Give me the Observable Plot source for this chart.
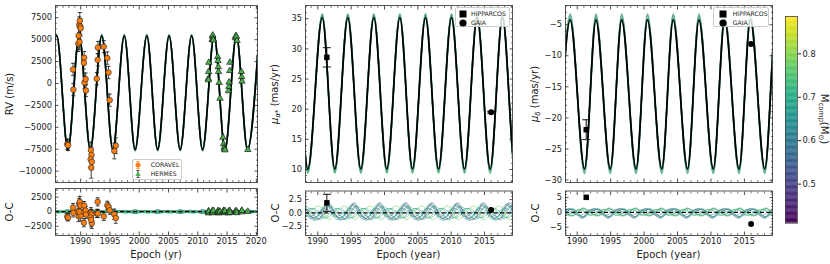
<!DOCTYPE html>
<html><head><meta charset="utf-8">
<script src="https://cdn.jsdelivr.net/npm/d3@7"></script>
<script src="https://cdn.jsdelivr.net/npm/@observablehq/plot@0.6"></script>
<style>
body{margin:0;background:#fff;}
#fig{position:relative;width:830px;height:264px;overflow:hidden;font-family:"DejaVu Sans",sans-serif;color:#222;}
#fig svg{position:absolute;left:0;top:0;}
.lab{position:absolute;font-size:10px;white-space:nowrap;line-height:1;}
.c{transform:translate(-50%,-50%);}
.rot{transform:translate(-50%,-50%) rotate(-90deg);}
.rot90{transform:translate(-50%,-50%) rotate(90deg);}
.leg{position:absolute;background:rgba(255,255,255,0.8);border:0.6px solid #ccc;border-radius:2px;box-sizing:border-box;}
.leg span{position:absolute;font-size:6.2px;line-height:1;transform:translateY(-50%);white-space:nowrap;}
.leg svg{position:absolute;overflow:visible;}
sub{font-size:70%;vertical-align:-0.3em;}
</style></head>
<body><div id="fig"></div>
<script>
// ---------------- DATA ----------------
const massDomain = [0.41, 0.886];
const colorbarTicks = [0.5, 0.6, 0.7, 0.8];

// RV best-fit model: alternating trough / peak (epoch, m/s)
const rvModelT = [1984.0, 1985.9, 1987.82, 1989.75, 1991.65, 1993.6, 1995.5, 1997.45, 1999.3, 2001.3, 2003.15, 2005.1, 2007.0, 2008.95, 2010.82, 2012.8, 2014.65, 2016.6, 2018.5, 2020.45];
const rvModelV = [-7550, 5450, -7550, 5450, -7550, 5450, -7550, 5450, -7550, 5450, -7550, 5450, -7550, 5450, -7550, 5450, -7550, 5450, -7550, 5450];
const rvSampleMass   = [0.50, 0.58, 0.63, 0.66, 0.69, 0.72, 0.78];
const rvSamplePeak   = [5600, 5520, 5480, 5400, 5560, 5350, 5500];
const rvSampleTrough = [-7700, -7620, -7500, -7450, -7680, -7400, -7600];

// CORAVEL radial velocities
const coravelT   = [1987.70, 1987.85, 1988.70, 1988.75, 1989.65, 1989.60, 1989.75, 1989.85, 1989.95, 1990.00, 1989.80, 1990.60, 1990.55, 1990.65, 1990.85, 1990.90, 1991.75, 1991.85, 1991.70, 1991.90, 1991.80, 1992.75, 1992.90, 1992.95, 1993.95, 1994.55, 1994.75, 1994.95, 1995.75, 1996.00];
const coravelV   = [-6930, -7050, 1600, -700, 5450, 4550, 6700, 7150, 6500, 6300, 4750, 2950, 2350, 100, 500, -800, -7600, -8150, -8650, -8950, -9600, 550, 2700, 4100, 4200, 2900, 1250, -1900, -7700, -7100];
const coravelE   = [600, 600, 700, 700, 900, 900, 900, 950, 900, 900, 900, 700, 700, 700, 700, 700, 900, 900, 900, 900, 1200, 700, 700, 700, 700, 700, 700, 700, 900, 900];
const coravelRes = [-850, -1000, 700, -200, -800, 100, 1400, 1700, 1050, -650, 0, 1050, -1900, -100, 200, -500, -200, -500, -1000, -2000, -1400, -300, 1700, -300, -800, 1100, 800, 250, -450, -1100];

// HERMES radial velocities
const hermesT   = [2011.80, 2011.82, 2011.85, 2011.88, 2012.45, 2012.50, 2012.55, 2012.60, 2012.65, 2013.40, 2013.45, 2013.50, 2013.55, 2013.65, 2013.80, 2014.30, 2014.40, 2014.50, 2014.55, 2014.65, 2015.25, 2015.30, 2015.35, 2015.45, 2015.50, 2016.40, 2016.50, 2016.60, 2016.70, 2017.45, 2017.50, 2017.55, 2018.55];
const hermesV   = [550, 400, 1350, 2400, 5000, 5400, 5500, 5100, 4950, 3050, 2600, 1900, 1350, 100, -1700, -6150, -6900, -7300, -7500, -7600, -850, -350, 150, 1450, 2400, 5200, 5450, 5350, 4900, 1350, 750, 250, -7550];
const hermesE   = [150, 150, 150, 150, 150, 150, 150, 150, 150, 150, 150, 150, 150, 150, 150, 150, 150, 150, 150, 150, 150, 150, 150, 150, 150, 150, 150, 150, 150, 150, 150, 150, 150];
const hermesRes = [-150, 100, -250, 50, -200, 150, 0, -100, 200, -50, 150, -250, 100, -150, 50, -100, 200, -200, 0, 150, -250, 100, -50, 200, -150, 50, -100, 150, -200, 100, -50, 200, 50];

// RV O-C sample curves (epoch grid, 4 points per cycle; values per sample)
const rvOcT = [1984.0, 1984.95, 1985.9, 1986.85, 1987.82, 1988.78, 1989.75, 1990.7, 1991.65, 1992.6, 1993.6, 1994.55, 1995.5, 1996.45, 1997.45, 1998.4, 1999.3, 2000.3, 2001.3, 2002.2, 2003.15, 2004.1, 2005.1, 2006.05, 2007.0, 2008.0, 2008.95, 2009.9, 2010.82, 2011.8, 2012.8, 2013.7, 2014.65, 2015.6, 2016.6, 2017.55, 2018.5, 2019.5, 2020.45, 2021.4];
const ocMass = [0.47, 0.52, 0.58, 0.62, 0.65, 0.67, 0.69, 0.71, 0.74, 0.78];
const rvOcPattern = [[-300, 100, 150, -50], [250, -80, -120, 60], [-150, 50, 200, -100], [120, 150, -80, -60], [-200, -100, 80, 120], [300, 60, -150, -40], [-80, -150, 100, 90], [180, 80, -200, -120], [-250, 20, 120, 150], [60, -60, -60, 40]];

// mu_alpha* model (mas/yr): alternating trough / peak
const muaModelT = [1984.6, 1986.55, 1988.5, 1990.66, 1992.55, 1994.5, 1996.45, 1998.4, 2000.35, 2002.3, 2004.2, 2006.15, 2008.1, 2010.05, 2012.0, 2013.9, 2015.85, 2017.7, 2019.6, 2021.5];
const muaModelV = [10.1, 35.2, 10.1, 35.2, 10.1, 35.2, 10.1, 35.2, 10.1, 35.2, 10.1, 35.2, 10.1, 35.2, 10.1, 35.2, 10.1, 35.2, 10.1, 35.2];
const muSampleMass = [0.52, 0.58, 0.62, 0.66, 0.69, 0.72, 0.77];
const muaSamplePeak   = [35.8, 35.6, 35.4, 35.7, 35.0, 35.5, 35.9];
const muaSampleTrough = [9.5, 9.7, 9.9, 9.4, 10.3, 9.6, 9.3];
const muaOcT = [1987.6, 1988.55, 1989.55, 1990.55, 1991.5, 1992.45, 1993.45, 1994.45, 1995.4, 1996.35, 1997.35, 1998.3, 1999.25, 2000.2, 2001.2, 2002.2, 2003.15, 2004.1, 2005.1, 2006.05, 2007.05, 2008.0, 2008.95, 2009.95, 2010.9, 2011.85, 2012.85, 2013.85, 2014.8, 2015.75, 2016.7, 2017.65, 2018.6, 2019.55, 2020.55, 2021.5];
const muaOcPattern = [[1.9, 0.2, -1.2, -0.5], [1.5, -0.3, -0.9, 0.4], [1.1, 0.5, -0.7, -0.8], [0.6, -0.6, -0.3, 0.6], [-0.5, 0.7, 0.5, -0.9], [1.3, -0.8, -1.0, 0.3], [-0.9, 0.3, 0.8, -0.4], [1.7, 0.0, -1.4, 0.7], [0.8, 1.0, -0.5, -1.2], [-1.2, -0.4, 1.0, 0.9]];

// mu_delta model (mas/yr): alternating trough / peak
const mudModelT = [1987.2, 1988.95, 1991.1, 1992.8, 1994.95, 1996.65, 1998.8, 2000.5, 2002.65, 2004.35, 2006.5, 2008.2, 2010.35, 2012.05, 2014.2, 2015.9, 2018.05, 2019.75, 2021.9];
const mudModelV = [-28.2, -4.2, -28.2, -4.2, -28.2, -4.2, -28.2, -4.2, -28.2, -4.2, -28.2, -4.2, -28.2, -4.2, -28.2, -4.2, -28.2, -4.2, -28.2];
const mudSamplePeak   = [-3.3, -3.6, -3.9, -4.2, -3.5, -4.5, -3.2];
const mudSampleTrough = [-28.9, -28.6, -28.4, -28.0, -29.0, -28.3, -28.8];
const mudOcT = [1986.9, 1987.85, 1988.85, 1989.8, 1990.75, 1991.7, 1992.7, 1993.65, 1994.6, 1995.55, 1996.55, 1997.5, 1998.5, 1999.45, 2000.45, 2001.4, 2002.4, 2003.35, 2004.35, 2005.3, 2006.3, 2007.25, 2008.25, 2009.2, 2010.2, 2011.15, 2012.15, 2013.1, 2014.1, 2015.05, 2016.05, 2017.0, 2018.0, 2018.95, 2019.95, 2020.9];
const mudOcPattern = [[-1.8, 0.4, 1.2, -0.3], [-1.4, -0.5, 0.9, 0.6], [1.3, 0.3, -0.8, -0.6], [-0.8, 0.8, 0.5, -0.7], [0.9, -0.7, -0.6, 0.5], [-1.5, 0.2, 1.0, 0.4], [1.1, 0.6, -1.0, -0.3], [-2.0, -0.3, 1.3, 0.5], [0.7, -0.9, -0.4, 0.8], [1.5, 0.5, -1.2, -0.6]];

// astrometry points
const astroLabels = ["HIPPARCOS", "GAIA"];
const astroT = [1991.35, 2016.0];
const muaObs = [28.6, 19.5];
const muaErr = [1.6, 0.15];
const muaRes = [1.9, 0.55];
const muaResErr = [1.6, 0.1];
const mudObs = [-21.9, -8.1];
const mudErr = [1.6, 0.1];
const mudRes = [5.1, -3.9];

// axis ticks
const xTicksRV = [1990, 1995, 2000, 2005, 2010, 2015, 2020];
const xTicksPM = [1990, 1995, 2000, 2005, 2010, 2015];
const yTicksRV = [-10000, -7500, -5000, -2500, 0, 2500, 5000, 7500];
const yTicksRVoc = [-2500, 0, 2500];
const yTicksMua = [10, 15, 20, 25, 30, 35];
const yTicksMuaOc = [-2.5, 0, 2.5];
const yTicksMud = [-30, -25, -20, -15, -10, -5];
const yTicksMudOc = [-5, 0, 5];

// ---------------- BUILD ----------------
const W = 830, H = 264;
const rng = (a, b, s) => { const o = []; for (let i = 0; a + i * s <= b + 1e-9; i++) o.push(+(a + i * s).toFixed(6)); return o; };
const fmtInt = d3.format("d"), fmt1 = d3.format(".1f");
const capSym = {draw(ctx, size) { const w = Math.sqrt(size / Math.PI); ctx.moveTo(-w, 0); ctx.lineTo(w, 0); }};
const colorOpt = {type: "linear", scheme: "viridis", domain: massDomain};

const modelRows = (T, V) => T.map((t, i) => ({t, v: V[i]}));
const bandRows = (T, masses, peaks, troughs, firstIsTrough) => masses.flatMap((m, k) => T.map((t, i) => ({t, m, k, v: ((i % 2 === 0) === firstIsTrough) ? troughs[k] : peaks[k]})));
const ocRows = (T, masses, pattern) => masses.flatMap((m, k) => T.map((t, i) => ({t, m, k, v: pattern[k][i % 4]})));

const coravel = coravelT.map((t, i) => ({t, v: coravelV[i], e: coravelE[i], r: coravelRes[i]}));
const hermes = hermesT.map((t, i) => ({t, v: hermesV[i], e: hermesE[i], r: hermesRes[i]}));
const astro = astroT.map((t, i) => ({name: astroLabels[i], t, a: muaObs[i], ae: muaErr[i], ar: muaRes[i], are: muaResErr[i], d: mudObs[i], de: mudErr[i], dr: mudRes[i]}));

function errMarks(data, y, e, capR, sw) {
  return [
    Plot.ruleX(data, {x: "t", y1: d => y(d) - e(d), y2: d => y(d) + e(d), stroke: "#111", strokeWidth: sw}),
    Plot.dot(data, {x: "t", y: d => y(d) + e(d), symbol: capSym, r: capR, stroke: "#111", fill: "none", strokeWidth: sw}),
    Plot.dot(data, {x: "t", y: d => y(d) - e(d), symbol: capSym, r: capR, stroke: "#111", fill: "none", strokeWidth: sw})
  ];
}

function panel(o) {
  const [L, R, T, B] = o.frame;
  const inX = o.xMinor.filter(v => v >= o.xDomain[0] && v <= o.xDomain[1] && !o.xTicks.includes(v));
  const inY = o.yMinor.filter(v => v >= o.yDomain[0] && v <= o.yDomain[1] && !o.yTicks.includes(v));
  const tk = {stroke: "#222", fill: "none", label: null};
  const marks = [
    ...o.marks,
    Plot.frame({stroke: "#444", strokeWidth: 0.9}),
    Plot.axisX({...tk, anchor: "bottom", ticks: o.xTicks, tickSize: -3.5, strokeWidth: 0.8}),
    Plot.axisX({...tk, anchor: "bottom", ticks: inX, tickSize: -2, strokeWidth: 0.6}),
    Plot.axisX({...tk, anchor: "top", ticks: o.xTicks, tickSize: -3.5, strokeWidth: 0.8}),
    Plot.axisX({...tk, anchor: "top", ticks: inX, tickSize: -2, strokeWidth: 0.6}),
    Plot.axisY({...tk, anchor: "left", ticks: o.yTicks, tickSize: -3.5, strokeWidth: 0.8}),
    Plot.axisY({...tk, anchor: "left", ticks: inY, tickSize: -2, strokeWidth: 0.6}),
    Plot.axisY({...tk, anchor: "right", ticks: o.yTicks, tickSize: -3.5, strokeWidth: 0.8}),
    Plot.axisY({...tk, anchor: "right", ticks: inY, tickSize: -2, strokeWidth: 0.6}),
    Plot.axisY({anchor: "left", ticks: o.yTicks, tickSize: 0, tickPadding: 3.5, tickFormat: o.yFormat, label: null, fill: "#222"})
  ];
  if (o.showX) marks.push(Plot.axisX({anchor: "bottom", ticks: o.xTicks, tickSize: 0, tickPadding: 3, tickFormat: fmtInt, label: null, fill: "#222"}));
  return Plot.plot({
    width: W, height: H,
    marginLeft: L, marginRight: W - R, marginTop: T, marginBottom: H - B,
    x: {domain: o.xDomain}, y: {domain: o.yDomain},
    color: colorOpt,
    style: {background: "transparent", overflow: "visible", fontFamily: "DejaVu Sans, sans-serif", fontSize: "8.3px", color: "#222"},
    marks
  });
}

const fig = document.getElementById("fig");
const xRV = [1985.7, 2020.2], xPMa = [1988.15, 2019.2], xPMd = [1988.25, 2019.2];
const bandStyle = {x: "t", y: "v", z: "k", stroke: "m", strokeWidth: 1.4, strokeOpacity: 0.5, curve: "monotone-x", clip: true};
const ocStyle = {x: "t", y: "v", z: "k", stroke: "m", strokeWidth: 1, strokeOpacity: 0.55, curve: "natural", clip: true};
const zeroLine = Plot.ruleY([0], {stroke: "#000", strokeWidth: 1.3, strokeDasharray: "4,2.5"});

// Panel 1: RV
fig.append(panel({
  frame: [55, 257, 5, 182], xDomain: xRV, yDomain: [-11300, 8900],
  xTicks: xTicksRV, xMinor: rng(1986, 2020, 1), yTicks: yTicksRV, yMinor: rng(-11250, 8750, 625), yFormat: fmtInt,
  marks: [
    Plot.line(bandRows(rvModelT, rvSampleMass, rvSamplePeak, rvSampleTrough, true), bandStyle),
    Plot.line(modelRows(rvModelT, rvModelV), {x: "t", y: "v", stroke: "#000", strokeWidth: 1.7, curve: "monotone-x", clip: true}),
    ...errMarks(coravel, d => d.v, d => d.e, 2, 0.8),
    ...errMarks(hermes, d => d.v, d => d.e, 1.5, 0.7),
    Plot.dot(coravel, {x: "t", y: "v", r: 2.8, fill: "#ff7f0e", stroke: "#222", strokeWidth: 0.6}),
    Plot.dot(hermes, {x: "t", y: "v", symbol: "triangle", r: 2.4, fill: "#4caf50", stroke: "#111", strokeWidth: 0.6})
  ]
}));
fig.append(panel({
  frame: [55, 257, 188, 235], xDomain: xRV, yDomain: [-4100, 4000], showX: true,
  xTicks: xTicksRV, xMinor: rng(1986, 2020, 1), yTicks: yTicksRVoc, yMinor: rng(-3750, 3750, 625), yFormat: fmtInt,
  marks: [
    Plot.line(ocRows(rvOcT, ocMass, rvOcPattern), {...ocStyle, strokeOpacity: 0.6, strokeWidth: 1.3}),
    zeroLine,
    ...errMarks(coravel, d => d.r, d => d.e, 2, 0.8),
    ...errMarks(hermes, d => d.r, d => d.e, 1.5, 0.7),
    Plot.dot(coravel, {x: "t", y: "r", r: 2.8, fill: "#ff7f0e", stroke: "#222", strokeWidth: 0.6}),
    Plot.dot(hermes, {x: "t", y: "r", symbol: "triangle", r: 2.4, fill: "#4caf50", stroke: "#111", strokeWidth: 0.6})
  ]
}));

// Panel 2: mu_alpha*
fig.append(panel({
  frame: [305, 512, 5, 182], xDomain: xPMa, yDomain: [7.84, 37.2],
  xTicks: xTicksPM, xMinor: rng(1988, 2019, 1), yTicks: yTicksMua, yMinor: rng(8, 37, 1), yFormat: fmtInt,
  marks: [
    Plot.line(bandRows(muaModelT, muSampleMass, muaSamplePeak, muaSampleTrough, true), bandStyle),
    Plot.line(modelRows(muaModelT, muaModelV), {x: "t", y: "v", stroke: "#000", strokeWidth: 1.8, curve: "monotone-x", clip: true}),
    ...errMarks(astro, d => d.a, d => d.ae, 4, 1),
    Plot.dot(astro, {x: "t", y: "a", symbol: d => d.name === "GAIA" ? "circle" : "square", r: d => d.name === "GAIA" ? 3.7 : 4, fill: "#000"})
  ]
}));
fig.append(panel({
  frame: [305, 512, 190.5, 235], xDomain: xPMa, yDomain: [-4.26, 4.13], showX: true,
  xTicks: xTicksPM, xMinor: rng(1988, 2019, 1), yTicks: yTicksMuaOc, yMinor: rng(-3.75, 3.75, 0.625), yFormat: fmt1,
  marks: [
    Plot.line(ocRows(muaOcT, ocMass, muaOcPattern), ocStyle),
    zeroLine,
    ...errMarks(astro.filter(d => d.name === "HIPPARCOS"), d => d.ar, d => d.are, 4, 1),
    Plot.dot(astro, {x: "t", y: "ar", symbol: d => d.name === "GAIA" ? "circle" : "square", r: d => d.name === "GAIA" ? 3.7 : 4, fill: "#000"})
  ]
}));

// Panel 3: mu_delta
fig.append(panel({
  frame: [565, 772, 5, 182], xDomain: xPMd, yDomain: [-30.4, -1.9],
  xTicks: xTicksPM, xMinor: rng(1989, 2019, 1), yTicks: yTicksMud, yMinor: rng(-30, -2, 1), yFormat: fmtInt,
  marks: [
    Plot.line(bandRows(mudModelT, muSampleMass, mudSamplePeak, mudSampleTrough, true), bandStyle),
    Plot.line(modelRows(mudModelT, mudModelV), {x: "t", y: "v", stroke: "#000", strokeWidth: 1.8, curve: "monotone-x", clip: true}),
    ...errMarks(astro.filter(d => d.name === "HIPPARCOS"), d => d.d, d => d.de, 4, 1),
    Plot.dot(astro, {x: "t", y: "d", symbol: d => d.name === "GAIA" ? "circle" : "square", r: d => d.name === "GAIA" ? 3.7 : 4, fill: "#000"})
  ]
}));
fig.append(panel({
  frame: [565, 772, 190.5, 235], xDomain: xPMd, yDomain: [-7.8, 7.24], showX: true,
  xTicks: xTicksPM, xMinor: rng(1989, 2019, 1), yTicks: yTicksMudOc, yMinor: rng(-7, 7, 1), yFormat: fmtInt,
  marks: [
    Plot.line(ocRows(mudOcT, ocMass, mudOcPattern), ocStyle),
    zeroLine,
    Plot.dot(astro, {x: "t", y: "dr", symbol: d => d.name === "GAIA" ? "circle" : "square", r: d => d.name === "GAIA" ? 3.7 : 4, fill: "#000"})
  ]
}));

// Colorbar
const ramp = d3.range(massDomain[0], massDomain[1], 0.002);
fig.append(Plot.plot({
  width: W, height: H, marginLeft: 785, marginRight: W - 797, marginTop: 16, marginBottom: H - 222.7,
  x: {domain: [0, 1], axis: null}, y: {domain: massDomain},
  color: colorOpt,
  style: {background: "transparent", overflow: "visible", fontFamily: "DejaVu Sans, sans-serif", fontSize: "8.3px", color: "#222"},
  marks: [
    Plot.rect(ramp, {x1: 0, x2: 1, y1: d => d, y2: d => Math.min(d + 0.0025, massDomain[1]), fill: d => d}),
    Plot.frame({stroke: "#444", strokeWidth: 0.8}),
    Plot.axisY({anchor: "right", ticks: colorbarTicks, tickSize: 3, tickPadding: 2, tickFormat: fmt1, label: null, stroke: "#222", fill: "#222"})
  ]
}));

// ---------------- TEXT ----------------
function lab(html, x, y, cls, size) {
  const d = document.createElement("div");
  d.className = "lab " + cls;
  d.style.left = x + "px"; d.style.top = y + "px";
  if (size) d.style.fontSize = size + "px";
  d.innerHTML = html;
  fig.append(d);
}
lab("RV (m/s)", 10, 93.5, "rot");
lab("O-C", 10, 211.5, "rot");
lab("Epoch (yr)", 156, 255, "c");
lab("<i>μ</i><sub><i>α</i>*</sub> (mas/yr)", 276, 93.5, "rot");
lab("O-C", 276, 212.7, "rot");
lab("Epoch (year)", 408.5, 255, "c");
lab("<i>μ</i><sub><i>δ</i></sub> (mas/yr)", 536, 93.5, "rot");
lab("O-C", 536, 212.7, "rot");
lab("Epoch (year)", 668.5, 255, "c");
lab("M<sub>comp</sub>(M<sub>⊙</sub>)", 823, 119, "rot90");

function legend(x, y, w, h, rows) {
  const d = document.createElement("div");
  d.className = "leg";
  Object.assign(d.style, {left: x + "px", top: y + "px", width: w + "px", height: h + "px"});
  rows.forEach(r => {
    d.insertAdjacentHTML("beforeend", `<svg width="10" height="10" style="left:${r.mx - 5}px;top:${r.my - 5}px">${r.svg}</svg><span style="left:${r.tx}px;top:${r.my}px">${r.text}</span>`);
  });
  fig.append(d);
}
legend(131.7, 159, 50, 20.5, [
  {mx: 5, my: 5.3, tx: 18, text: "CORAVEL", svg: '<line x1="5" y1="1.5" x2="5" y2="8.5" stroke="#ff7f0e" stroke-width="0.8"/><line x1="3.5" y1="1.5" x2="6.5" y2="1.5" stroke="#ff7f0e" stroke-width="0.8"/><line x1="3.5" y1="8.5" x2="6.5" y2="8.5" stroke="#ff7f0e" stroke-width="0.8"/><circle cx="5" cy="5" r="2.5" fill="#ff7f0e"/>'},
  {mx: 5, my: 14.3, tx: 18, text: "HERMES", svg: '<line x1="5" y1="1.5" x2="5" y2="8.5" stroke="#222" stroke-width="0.8"/><line x1="3.5" y1="1.5" x2="6.5" y2="1.5" stroke="#222" stroke-width="0.8"/><line x1="3.5" y1="8.5" x2="6.5" y2="8.5" stroke="#222" stroke-width="0.8"/><path d="M5,2.2 L7.7,7 L2.3,7 Z" fill="#4caf50"/>'}
]);
const hipSvg = '<rect x="1.5" y="1.5" width="7" height="7" fill="#000"/>';
const gaiaSvg = '<circle cx="5" cy="5" r="3.6" fill="#000"/>';
legend(455, 7, 54.5, 20, [
  {mx: 6.7, my: 5.7, tx: 15, text: "HIPPARCOS", svg: hipSvg},
  {mx: 6.7, my: 15.2, tx: 15, text: "GAIA", svg: gaiaSvg}
]);
legend(713.3, 7, 55.5, 20, [
  {mx: 8.4, my: 5.7, tx: 18.4, text: "HIPPARCOS", svg: hipSvg},
  {mx: 8.4, my: 15.2, tx: 18.4, text: "GAIA", svg: gaiaSvg}
]);
</script></body></html>
